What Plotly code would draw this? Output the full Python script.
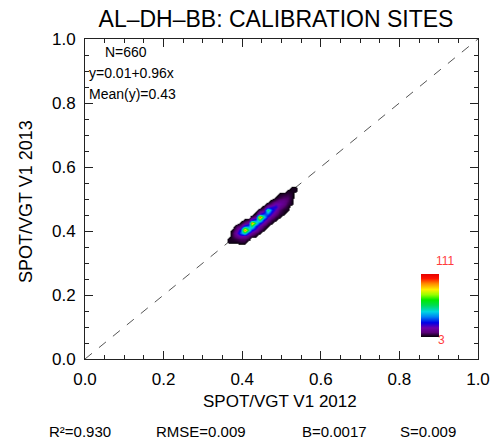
import plotly.graph_objects as go

# ---------------- data ----------------
x_centers = [0.355, 0.365, 0.375, 0.385, 0.395, 0.405, 0.415, 0.425, 0.435, 0.445,
             0.455, 0.465, 0.475, 0.485, 0.495, 0.505, 0.515, 0.525, 0.535, 0.545]
y_centers = [0.345, 0.355, 0.365, 0.375, 0.385, 0.395, 0.405, 0.415, 0.425, 0.435, 0.445,
             0.455, 0.465, 0.475, 0.485, 0.495, 0.505, 0.515, 0.525, 0.535, 0.545, 0.555]
# point counts per bin (rows = y, columns = x)
counts = [
    [0, 0, 0, 0, 0, 0, 0, 0, 0, 0, 0, 0, 0, 0, 0, 0, 0, 0, 0, 0],
    [0, 0, 0, 0, 0, 0, 0, 0, 0, 0, 0, 0, 0, 0, 0, 0, 0, 0, 0, 0],
    [0, 5, 5, 5, 7, 7, 0, 0, 0, 0, 0, 0, 0, 0, 0, 0, 0, 0, 0, 0],
    [0, 5, 6, 8, 10, 10, 7, 0, 0, 0, 0, 0, 0, 0, 0, 0, 0, 0, 0, 0],
    [0, 0, 8, 14, 20, 18, 12, 8, 5, 0, 0, 0, 0, 0, 0, 0, 0, 0, 0, 0],
    [0, 0, 8, 20, 36, 55, 26, 16, 10, 5, 0, 0, 0, 0, 0, 0, 0, 0, 0, 0],
    [0, 0, 5, 14, 30, 100, 55, 30, 20, 10, 5, 0, 0, 0, 0, 0, 0, 0, 0, 0],
    [0, 0, 0, 8, 12, 30, 36, 60, 32, 18, 10, 5, 0, 0, 0, 0, 0, 0, 0, 0],
    [0, 0, 0, 0, 5, 12, 18, 98, 55, 30, 18, 9, 5, 0, 0, 0, 0, 0, 0, 0],
    [0, 0, 0, 0, 0, 5, 8, 26, 34, 60, 28, 15, 8, 5, 0, 0, 0, 0, 0, 0],
    [0, 0, 0, 0, 0, 0, 0, 8, 14, 104, 50, 24, 14, 8, 5, 0, 0, 0, 0, 0],
    [0, 0, 0, 0, 0, 0, 0, 0, 6, 22, 32, 36, 22, 13, 7, 5, 0, 0, 0, 0],
    [0, 0, 0, 0, 0, 0, 0, 0, 0, 8, 12, 58, 32, 20, 10, 6, 5, 0, 0, 0],
    [0, 0, 0, 0, 0, 0, 0, 0, 0, 0, 6, 18, 24, 26, 15, 10, 6, 0, 0, 0],
    [0, 0, 0, 0, 0, 0, 0, 0, 0, 0, 0, 7, 12, 20, 18, 14, 8, 5, 0, 0],
    [0, 0, 0, 0, 0, 0, 0, 0, 0, 0, 0, 0, 6, 10, 14, 14, 10, 5, 0, 0],
    [0, 0, 0, 0, 0, 0, 0, 0, 0, 0, 0, 0, 0, 5, 8, 10, 10, 6, 0, 0],
    [0, 0, 0, 0, 0, 0, 0, 0, 0, 0, 0, 0, 0, 0, 5, 6, 7, 6, 0, 0],
    [0, 0, 0, 0, 0, 0, 0, 0, 0, 0, 0, 0, 0, 0, 0, 0, 5, 5, 5, 0],
    [0, 0, 0, 0, 0, 0, 0, 0, 0, 0, 0, 0, 0, 0, 0, 0, 0, 5, 5, 0],
    [0, 0, 0, 0, 0, 0, 0, 0, 0, 0, 0, 0, 0, 0, 0, 0, 0, 0, 0, 0],
    [0, 0, 0, 0, 0, 0, 0, 0, 0, 0, 0, 0, 0, 0, 0, 0, 0, 0, 0, 0],
]
count_min = 3
count_max = 111
stats_inside = ["N=660", "y=0.01+0.96x", "Mean(y)=0.43"]
stats_bottom = ["R²=0.930", "RMSE=0.009", "B=0.0017", "S=0.009"]
tick_vals = [0.0, 0.2, 0.4, 0.6, 0.8, 1.0]
tick_text = ["0.0", "0.2", "0.4", "0.6", "0.8", "1.0"]

# ---------------- layout helpers ----------------
W, H = 500, 447
L, R, T, B = 85, 22, 39, 88
PW, PH = W - L - R, H - T - B


def px2x(px):
    return (px - L) / PW


def py2y(py):
    return (H - B - py) / PH


FONT = "Liberation Sans, Arial, sans-serif"

lo = (count_min - 0.05) / count_max
colorscale = [
    [0.0, "rgba(255,255,255,0)"],
    [lo, "rgba(255,255,255,0)"],
    [count_min / count_max, "rgb(0,0,0)"],
    [0.10, "rgb(90,0,120)"],
    [0.17, "rgb(110,0,170)"],
    [0.25, "rgb(0,0,230)"],
    [0.34, "rgb(0,130,245)"],
    [0.42, "rgb(0,215,225)"],
    [0.52, "rgb(0,220,80)"],
    [0.60, "rgb(0,235,0)"],
    [0.68, "rgb(150,255,0)"],
    [0.76, "rgb(255,240,0)"],
    [0.85, "rgb(255,140,0)"],
    [0.93, "rgb(255,20,0)"],
    [1.0, "rgb(230,0,0)"],
]

fig = go.Figure()
fig.add_trace(go.Heatmap(
    x=x_centers, y=y_centers, z=counts,
    zmin=0, zmax=count_max, zsmooth="best",
    colorscale=colorscale, hoverinfo="skip",
    colorbar=dict(
        x=px2x(411), xanchor="left", xref="paper",
        y=py2y(349), yanchor="bottom", yref="paper",
        len=(349 - 264) / PH, lenmode="fraction",
        thickness=18, thicknessmode="pixels",
        outlinewidth=0, showticklabels=False, ticks="",
    ),
))

axis_common = dict(
    range=[0, 1], showgrid=False, zeroline=False, automargin=False,
    showline=True, linecolor="#222", linewidth=1, mirror="allticks",
    ticks="inside", ticklen=8, tickcolor="#222", tickwidth=1,
    tickvals=tick_vals, ticktext=tick_text,
    tickfont=dict(family=FONT, size=17, color="black"),
    minor=dict(dtick=0.05, ticks="inside", ticklen=4, tickcolor="#222", tickwidth=1),
)

fig.update_layout(
    width=W, height=H,
    margin=dict(l=L, r=R, t=T, b=B, pad=0, autoexpand=False),
    paper_bgcolor="white", plot_bgcolor="white",
    showlegend=False,
    xaxis=dict(axis_common, ticklabelstandoff=5),
    yaxis=dict(axis_common, ticklabelstandoff=5),
    title=dict(text="AL\u2013DH\u2013BB: CALIBRATION SITES", x=276 / W, xanchor="center",
               y=1 - 19 / H, yanchor="middle",
               font=dict(family=FONT, size=23, color="black")),
    shapes=[dict(type="line", xref="x", yref="y", x0=0, y0=0, x1=1, y1=1,
                 layer="below", line=dict(color="#555", width=1, dash="dash"))],
)

ann = []
# axis titles
ann.append(dict(text="SPOT/VGT V1 2012", xref="paper", yref="paper",
                x=px2x(280), y=py2y(401), xanchor="center", yanchor="middle",
                showarrow=False, font=dict(family=FONT, size=17, color="black")))
ann.append(dict(text="SPOT/VGT V1 2013", xref="paper", yref="paper",
                x=px2x(26), y=py2y(201), xanchor="center", yanchor="middle",
                showarrow=False, textangle=-90,
                font=dict(family=FONT, size=18, color="black")))
# inside stats
inside_pos = [(103, 52), (87, 73), (87, 94)]
for txt, (px, py) in zip(stats_inside, inside_pos):
    ann.append(dict(text=txt, xref="paper", yref="paper", x=px2x(px), y=py2y(py),
                    xanchor="left", yanchor="middle", showarrow=False,
                    font=dict(family=FONT, size=14, color="black")))
# bottom stats
bottom_pos = [80, 201, 334, 428]
for txt, px in zip(stats_bottom, bottom_pos):
    ann.append(dict(text=txt, xref="paper", yref="paper", x=px2x(px), y=py2y(431),
                    xanchor="center", yanchor="middle", showarrow=False,
                    font=dict(family=FONT, size=15, color="black")))
# colorbar labels
ann.append(dict(text=str(count_max), xref="paper", yref="paper", x=px2x(434), y=py2y(261),
                xanchor="left", yanchor="middle", showarrow=False,
                font=dict(family=FONT, size=12, color="rgb(255,60,60)")))
ann.append(dict(text=str(count_min), xref="paper", yref="paper", x=px2x(436), y=py2y(340),
                xanchor="left", yanchor="middle", showarrow=False,
                font=dict(family=FONT, size=12, color="rgb(255,60,60)")))
fig.update_layout(annotations=ann)

fig.write_html("out.html", config={"displayModeBar": False},
               post_script="document.body.style.margin='0px';")
